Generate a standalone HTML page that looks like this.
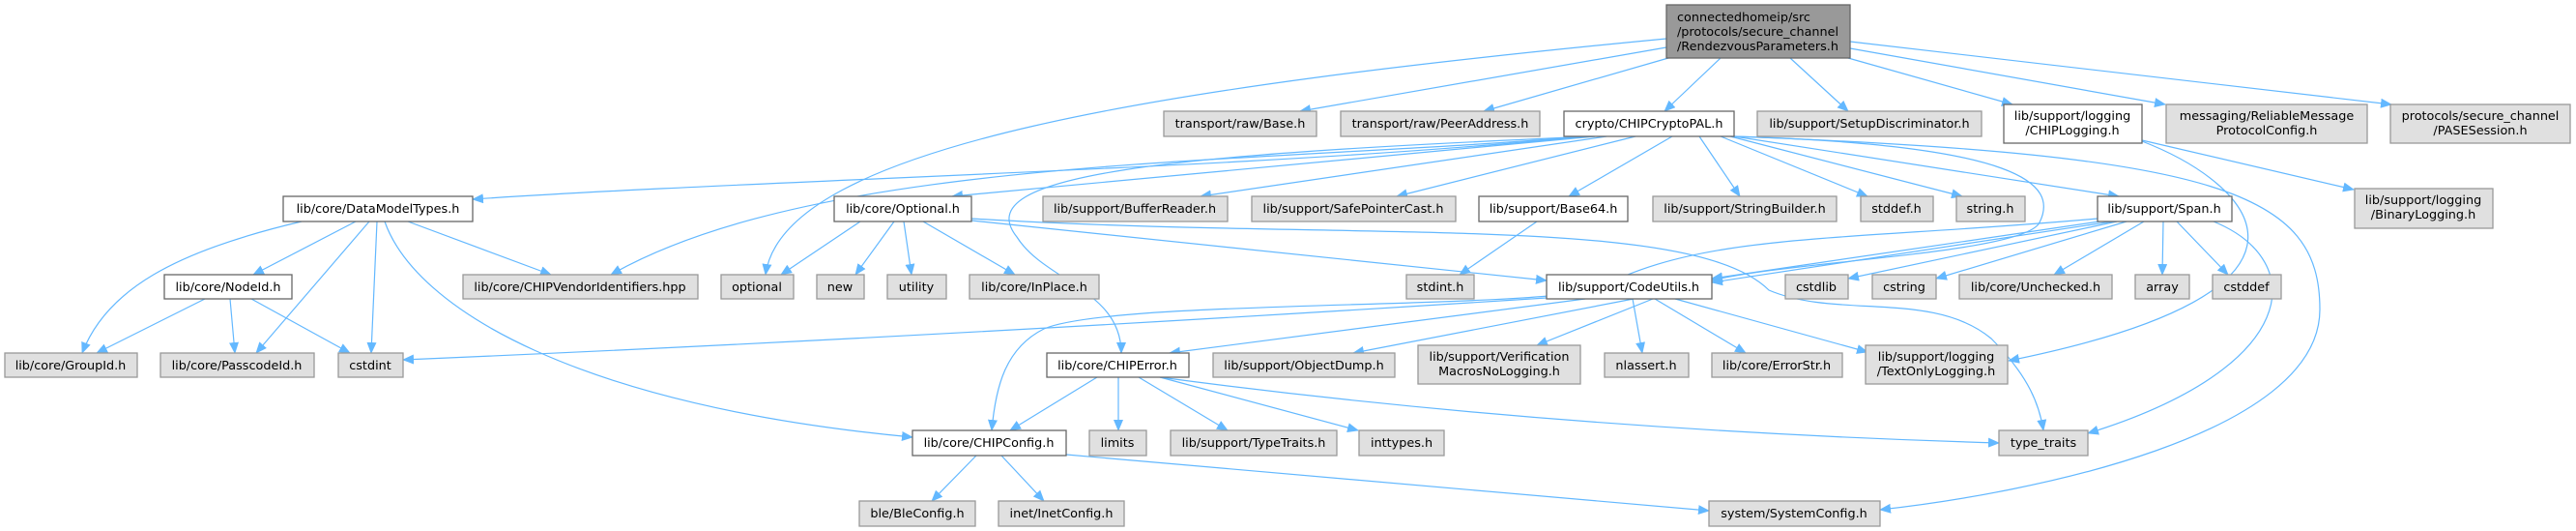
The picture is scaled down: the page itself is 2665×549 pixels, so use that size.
<!DOCTYPE html>
<html><head><meta charset="utf-8"><style>
html,body{margin:0;padding:0;background:#fff;}
svg{display:block;}
text{font-family:"DejaVu Sans","Liberation Sans",sans-serif;font-size:12.8px;fill:#000;}
.g{fill:#e0e0e0;stroke:#999;stroke-width:1.3;}
.w{fill:#fff;stroke:#666;stroke-width:1.3;}
.e{fill:none;stroke:#63b8ff;stroke-width:1.2;marker-end:url(#a);}
</style></head><body>
<svg width="2665" height="549" viewBox="0 0 2665 549" xmlns="http://www.w3.org/2000/svg">
<defs><marker id="a" markerUnits="userSpaceOnUse" markerWidth="12" markerHeight="10" refX="11" refY="5" orient="auto"><path d="M0,0 L12,5 L0,10 z" fill="#63b8ff"/></marker></defs>
<g>
<!-- top edges -->
<path class="e" d="M1724,40 C1200,90 810,150 792,284"/>
<path class="e" d="M1724,49 L1345,115"/>
<path class="e" d="M1726,60 L1535,115"/>
<path class="e" d="M1780,60 L1722,115"/>
<path class="e" d="M1852,60 L1912,115"/>
<path class="e" d="M1912,60 L2082,108"/>
<path class="e" d="M1914,50 L2240,108"/>
<path class="e" d="M1914,43 L2474,108"/>
<path class="e" d="M2216,145 L2435,196"/>
<path class="e" d="M2216,146 C2330,190 2440,300 2078,373"/>
<!-- crypto edges -->
<path class="e" d="M1640,141 C1300,175 800,185 489,206"/>
<path class="e" d="M1640,141 C1300,170 850,160 632,284"/>
<path class="e" d="M1650,141 L985,203"/>
<path class="e" d="M1650,141 C1200,160 1000,180 1052,245 C1080,290 1160,300 1160,365"/>
<path class="e" d="M1662,141 L1242,203"/>
<path class="e" d="M1692,141 L1445,203"/>
<path class="e" d="M1730,141 L1623,203"/>
<path class="e" d="M1758,141 L1800,203"/>
<path class="e" d="M1780,141 L1932,203"/>
<path class="e" d="M1790,141 L2030,203"/>
<path class="e" d="M1794,141 L2192,203"/>
<path class="e" d="M1794,141 C2090,150 2130,190 2110,230 C2095,262 1850,270 1771,290"/>
<path class="e" d="M1794,141 C2300,160 2400,200 2400,320 C2400,450 2100,510 1945,527"/>
<!-- DataModelTypes -->
<path class="e" d="M312,229 C180,260 110,300 85,365"/>
<path class="e" d="M368,229 L262,284"/>
<path class="e" d="M382,229 L265,365"/>
<path class="e" d="M390,229 L384,365"/>
<path class="e" d="M422,229 L570,284"/>
<path class="e" d="M398,229 C430,320 600,420 944,452"/>
<!-- NodeId -->
<path class="e" d="M212,309 L100,365"/>
<path class="e" d="M238,309 L243,365"/>
<path class="e" d="M260,309 L362,365"/>
<!-- Optional -->
<path class="e" d="M890,229 L808,284"/>
<path class="e" d="M925,229 L885,284"/>
<path class="e" d="M935,229 L943,284"/>
<path class="e" d="M955,229 L1050,284"/>
<path class="e" d="M1005,228 L1600,290"/>
<path class="e" d="M1005,226 C1400,250 1750,220 1830,300 C1900,330 2000,300 2060,350 C2100,390 2110,420 2114,445"/>
<!-- Base64 -->
<path class="e" d="M1590,229 L1510,284"/>
<!-- Span -->
<path class="e" d="M2172,229 L1771,288"/>
<path class="e" d="M2185,229 L1771,292"/>
<path class="e" d="M2190,229 L1912,288"/>
<path class="e" d="M2200,229 L2003,288"/>
<path class="e" d="M2218,229 L2125,284"/>
<path class="e" d="M2238,229 L2237,284"/>
<path class="e" d="M2252,229 L2305,284"/>
<path class="e" d="M2290,229 C2390,270 2380,380 2160,448"/>
<path class="e" d="M2170,226 C1900,250 1760,240 1650,300 C1550,320 1150,310 1080,340 C1040,360 1030,400 1026,445"/>
<!-- CodeUtils -->
<path class="e" d="M1600,308 C1100,340 700,360 417,372"/>
<path class="e" d="M1640,309 L1210,365"/>
<path class="e" d="M1690,309 L1400,365"/>
<path class="e" d="M1710,309 L1590,357"/>
<path class="e" d="M1689,309 L1699,365"/>
<path class="e" d="M1712,309 L1806,365"/>
<path class="e" d="M1733,309 L1932,364"/>
<!-- CHIPError -->
<path class="e" d="M1135,390 L1045,445"/>
<path class="e" d="M1157,390 L1157,445"/>
<path class="e" d="M1178,390 L1270,445"/>
<path class="e" d="M1200,390 L1405,445"/>
<path class="e" d="M1200,390 C1500,430 1800,450 2068,458"/>
<!-- CHIPConfig -->
<path class="e" d="M1010,471 L964,518"/>
<path class="e" d="M1036,471 L1080,518"/>
<path class="e" d="M1103,470 L1768,528"/>
</g>
<g>
<rect x="1724" y="5" width="190" height="55" fill="#999" stroke="#666" stroke-width="1.3"/>
<text x="1735" y="22">connectedhomeip/src</text>
<text x="1735" y="37">/protocols/secure_channel</text>
<text x="1735" y="52">/RendezvousParameters.h</text>
</g>
<g text-anchor="middle">
<rect class="g" x="1204" y="115" width="158" height="26"/><text x="1283" y="132">transport/raw/Base.h</text>
<rect class="g" x="1387" y="115" width="206" height="26"/><text x="1490" y="132">transport/raw/PeerAddress.h</text>
<rect class="w" x="1618" y="115" width="176" height="26"/><text x="1706" y="132">crypto/CHIPCryptoPAL.h</text>
<rect class="g" x="1818" y="115" width="232" height="26"/><text x="1934" y="132">lib/support/SetupDiscriminator.h</text>
<rect class="w" x="2073" y="108" width="143" height="40"/><text x="2144" y="124">lib/support/logging</text><text x="2144" y="139">/CHIPLogging.h</text>
<rect class="g" x="2241" y="108" width="208" height="40"/><text x="2345" y="124">messaging/ReliableMessage</text><text x="2345" y="139">ProtocolConfig.h</text>
<rect class="g" x="2473" y="108" width="186" height="40"/><text x="2566" y="124">protocols/secure_channel</text><text x="2566" y="139">/PASESession.h</text>

<rect class="w" x="293" y="203" width="196" height="26"/><text x="391" y="220">lib/core/DataModelTypes.h</text>
<rect class="w" x="863" y="203" width="142" height="26"/><text x="934" y="220">lib/core/Optional.h</text>
<rect class="g" x="1079" y="203" width="191" height="26"/><text x="1174" y="220">lib/support/BufferReader.h</text>
<rect class="g" x="1295" y="203" width="211" height="26"/><text x="1400" y="220">lib/support/SafePointerCast.h</text>
<rect class="w" x="1530" y="203" width="154" height="26"/><text x="1607" y="220">lib/support/Base64.h</text>
<rect class="g" x="1710" y="203" width="190" height="26"/><text x="1805" y="220">lib/support/StringBuilder.h</text>
<rect class="g" x="1925" y="203" width="75" height="26"/><text x="1962" y="220">stddef.h</text>
<rect class="g" x="2024" y="203" width="71" height="26"/><text x="2059" y="220">string.h</text>
<rect class="w" x="2170" y="203" width="139" height="26"/><text x="2239" y="220">lib/support/Span.h</text>
<rect class="g" x="2436" y="195" width="143" height="41"/><text x="2507" y="211">lib/support/logging</text><text x="2507" y="226">/BinaryLogging.h</text>

<rect class="w" x="170" y="284" width="132" height="25"/><text x="236" y="301">lib/core/NodeId.h</text>
<rect class="g" x="479" y="284" width="243" height="25"/><text x="600" y="301">lib/core/CHIPVendorIdentifiers.hpp</text>
<rect class="g" x="746" y="284" width="75" height="25"/><text x="783" y="301">optional</text>
<rect class="g" x="845" y="284" width="49" height="25"/><text x="869" y="301">new</text>
<rect class="g" x="918" y="284" width="61" height="25"/><text x="948" y="301">utility</text>
<rect class="g" x="1003" y="284" width="134" height="25"/><text x="1070" y="301">lib/core/InPlace.h</text>
<rect class="g" x="1455" y="284" width="70" height="25"/><text x="1490" y="301">stdint.h</text>
<rect class="w" x="1600" y="284" width="171" height="25"/><text x="1685" y="301">lib/support/CodeUtils.h</text>
<rect class="g" x="1847" y="284" width="65" height="25"/><text x="1879" y="301">cstdlib</text>
<rect class="g" x="1937" y="284" width="66" height="25"/><text x="1970" y="301">cstring</text>
<rect class="g" x="2027" y="284" width="158" height="25"/><text x="2106" y="301">lib/core/Unchecked.h</text>
<rect class="g" x="2209" y="284" width="56" height="25"/><text x="2237" y="301">array</text>
<rect class="g" x="2289" y="284" width="71" height="25"/><text x="2324" y="301">cstddef</text>

<rect class="g" x="5" y="365" width="137" height="25"/><text x="73" y="382">lib/core/GroupId.h</text>
<rect class="g" x="166" y="365" width="159" height="25"/><text x="245" y="382">lib/core/PasscodeId.h</text>
<rect class="g" x="350" y="365" width="67" height="25"/><text x="383" y="382">cstdint</text>
<rect class="w" x="1083" y="365" width="147" height="25"/><text x="1156" y="382">lib/core/CHIPError.h</text>
<rect class="g" x="1255" y="365" width="188" height="25"/><text x="1349" y="382">lib/support/ObjectDump.h</text>
<rect class="g" x="1467" y="357" width="168" height="40"/><text x="1551" y="373">lib/support/Verification</text><text x="1551" y="388">MacrosNoLogging.h</text>
<rect class="g" x="1660" y="365" width="87" height="25"/><text x="1703" y="382">nlassert.h</text>
<rect class="g" x="1771" y="365" width="135" height="25"/><text x="1838" y="382">lib/core/ErrorStr.h</text>
<rect class="g" x="1930" y="357" width="147" height="40"/><text x="2003" y="373">lib/support/logging</text><text x="2003" y="388">/TextOnlyLogging.h</text>

<rect class="w" x="944" y="445" width="159" height="26"/><text x="1023" y="462">lib/core/CHIPConfig.h</text>
<rect class="g" x="1127" y="445" width="59" height="26"/><text x="1156" y="462">limits</text>
<rect class="g" x="1211" y="445" width="172" height="26"/><text x="1297" y="462">lib/support/TypeTraits.h</text>
<rect class="g" x="1406" y="445" width="88" height="26"/><text x="1450" y="462">inttypes.h</text>
<rect class="g" x="2068" y="445" width="92" height="26"/><text x="2114" y="462">type_traits</text>

<rect class="g" x="889" y="518" width="120" height="26"/><text x="949" y="535">ble/BleConfig.h</text>
<rect class="g" x="1033" y="518" width="130" height="26"/><text x="1098" y="535">inet/InetConfig.h</text>
<rect class="g" x="1768" y="518" width="177" height="26"/><text x="1856" y="535">system/SystemConfig.h</text>
</g>
</svg>
</body></html>
